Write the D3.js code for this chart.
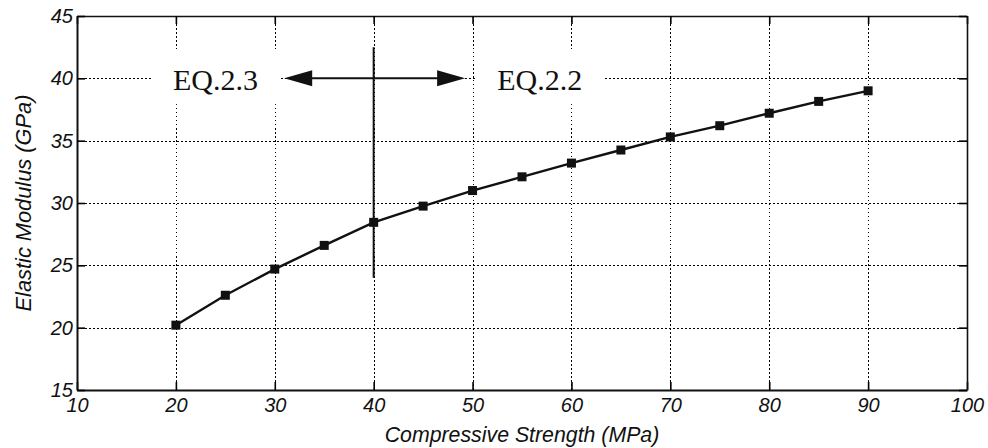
<!DOCTYPE html>
<html>
<head>
<meta charset="utf-8">
<script src="https://cdn.jsdelivr.net/npm/d3@7"></script>
<style>
  html, body { margin: 0; padding: 0; background: #fff; }
  svg { display: block; }
</style>
</head>
<body>
<svg id="chart" width="988" height="448"></svg>
<script>
// Compressive strength (MPa) and the resulting elastic modulus (GPa)
const strength = [20, 25, 30, 35, 40, 45, 50, 55, 60, 65, 70, 75, 80, 85, 90];
const modulus  = [20.2, 22.6, 24.7, 26.6, 28.45, 29.75, 31.0, 32.1, 33.2, 34.25, 35.3, 36.2, 37.2, 38.15, 39.0];

const xTicks = [10, 20, 30, 40, 50, 60, 70, 80, 90, 100];
const yTicks = [15, 20, 25, 30, 35, 40, 45];

const xLabel = "Compressive Strength (MPa)";
const yLabel = "Elastic Modulus (GPa)";

// Boundary between the two equations and their labels
const splitAt = 40;
const splitRange = [24.0, 42.5];
const arrowSpan = [30.95, 49.25];
const arrowLevel = 40;
const eqLabels = [
  { text: "EQ.2.3", at: 24.0 },
  { text: "EQ.2.2", at: 56.8 }
];
const eqBaseline = 39.05;

const W = 988, H = 448;
const margin = { top: 16, right: 21, bottom: 58, left: 77 };
const iw = W - margin.left - margin.right;
const ih = H - margin.top - margin.bottom;

const svg = d3.select("#chart");
const g = svg.append("g").attr("transform", `translate(${margin.left},${margin.top})`);

const x = d3.scaleLinear().domain([10, 100]).range([0, iw]);
const y = d3.scaleLinear().domain([15, 45]).range([ih, 0]);

const sansFont = "'Liberation Sans', Arial, sans-serif";

// Dotted grid, snapped to whole pixels so the dots stay dark
const px = v => Math.round(v) + 0.5;
const grid = g.append("g").attr("stroke", "#000").attr("stroke-width", 1)
  .attr("stroke-dasharray", "1.5,2.5").attr("shape-rendering", "crispEdges");
grid.selectAll("line.v").data(xTicks.slice(1, -1)).join("line")
  .attr("x1", d => px(x(d))).attr("x2", d => px(x(d)))
  .attr("y1", 0).attr("y2", ih);
grid.selectAll("line.h").data(yTicks.slice(1, -1)).join("line")
  .attr("y1", d => px(y(d))).attr("y2", d => px(y(d)))
  .attr("x1", 0).attr("x2", iw);

// Equation labels on white backing
const labels = g.append("g");
eqLabels.forEach(l => {
  const t = labels.append("text")
    .attr("x", x(l.at)).attr("y", y(eqBaseline))
    .attr("text-anchor", "middle")
    .attr("font-family", "'Liberation Serif', 'Times New Roman', serif")
    .attr("font-size", 30)
    .attr("fill", "#111")
    .text(l.text);
  const b = t.node().getBBox();
  labels.insert("rect", "text")
    .attr("x", b.x - 21).attr("y", b.y - 12)
    .attr("width", b.width + 42).attr("height", b.height + 20)
    .attr("fill", "#fff");
});

// Double-headed arrow
const ay = y(arrowLevel);
const ax0 = x(arrowSpan[0]), ax1 = x(arrowSpan[1]);
const headL = 28, headW = 8;
g.append("line")
  .attr("x1", ax0 + headL - 2).attr("x2", ax1 - headL + 2)
  .attr("y1", ay).attr("y2", ay)
  .attr("stroke", "#111").attr("stroke-width", 2);
g.append("path")
  .attr("d", `M${ax0},${ay} L${ax0 + headL},${ay - headW} L${ax0 + headL},${ay + headW} Z`)
  .attr("fill", "#111");
g.append("path")
  .attr("d", `M${ax1},${ay} L${ax1 - headL},${ay - headW} L${ax1 - headL},${ay + headW} Z`)
  .attr("fill", "#111");

// Vertical divider
g.append("line")
  .attr("x1", x(splitAt)).attr("x2", x(splitAt))
  .attr("y1", y(splitRange[1])).attr("y2", y(splitRange[0]))
  .attr("stroke", "#111").attr("stroke-width", 2);

// Data line and markers
const pts = strength.map((s, i) => [s, modulus[i]]);
g.append("path")
  .datum(pts)
  .attr("fill", "none")
  .attr("stroke", "#111")
  .attr("stroke-width", 2.4)
  .attr("d", d3.line().x(d => x(d[0])).y(d => y(d[1])));
const ms = 9;
g.selectAll("rect.m").data(pts).join("rect")
  .attr("x", d => x(d[0]) - ms / 2).attr("y", d => y(d[1]) - ms / 2)
  .attr("width", ms).attr("height", ms)
  .attr("fill", "#111");

// Axes with inward ticks on all four sides
const tickLen = 8;
const axB = g.append("g").attr("transform", `translate(0,${ih})`)
  .call(d3.axisBottom(x).tickValues(xTicks).tickSizeInner(-tickLen).tickSizeOuter(0).tickPadding(8));
const axT = g.append("g")
  .call(d3.axisTop(x).tickValues(xTicks).tickSizeInner(-tickLen).tickSizeOuter(0).tickFormat(""));
const axL = g.append("g")
  .call(d3.axisLeft(y).tickValues(yTicks).tickSizeInner(-tickLen).tickSizeOuter(0).tickPadding(4));
const axR = g.append("g").attr("transform", `translate(${iw},0)`)
  .call(d3.axisRight(y).tickValues(yTicks).tickSizeInner(-tickLen).tickSizeOuter(0).tickFormat(""));

[axB, axT, axL, axR].forEach(a => {
  a.select(".domain").attr("stroke", "#111").attr("stroke-width", 1.6);
  a.selectAll(".tick line").attr("stroke", "#000").attr("stroke-width", 1.6);
  a.selectAll(".tick text")
    .attr("font-family", sansFont)
    .attr("font-style", "italic")
    .attr("font-size", 20)
    .attr("fill", "#111");
});
axB.select(".domain").attr("stroke-width", 2);
axL.select(".domain").attr("stroke-width", 2);

// Axis titles
svg.append("text")
  .attr("x", margin.left + iw / 2).attr("y", 442)
  .attr("text-anchor", "middle")
  .attr("font-family", sansFont).attr("font-style", "italic")
  .attr("font-size", 21.3).attr("fill", "#111")
  .text(xLabel);
svg.append("text")
  .attr("transform", `translate(31,${margin.top + ih / 2}) rotate(-90)`)
  .attr("text-anchor", "middle")
  .attr("font-family", sansFont).attr("font-style", "italic")
  .attr("font-size", 21.8).attr("fill", "#111")
  .text(yLabel);
</script>
</body>
</html>
